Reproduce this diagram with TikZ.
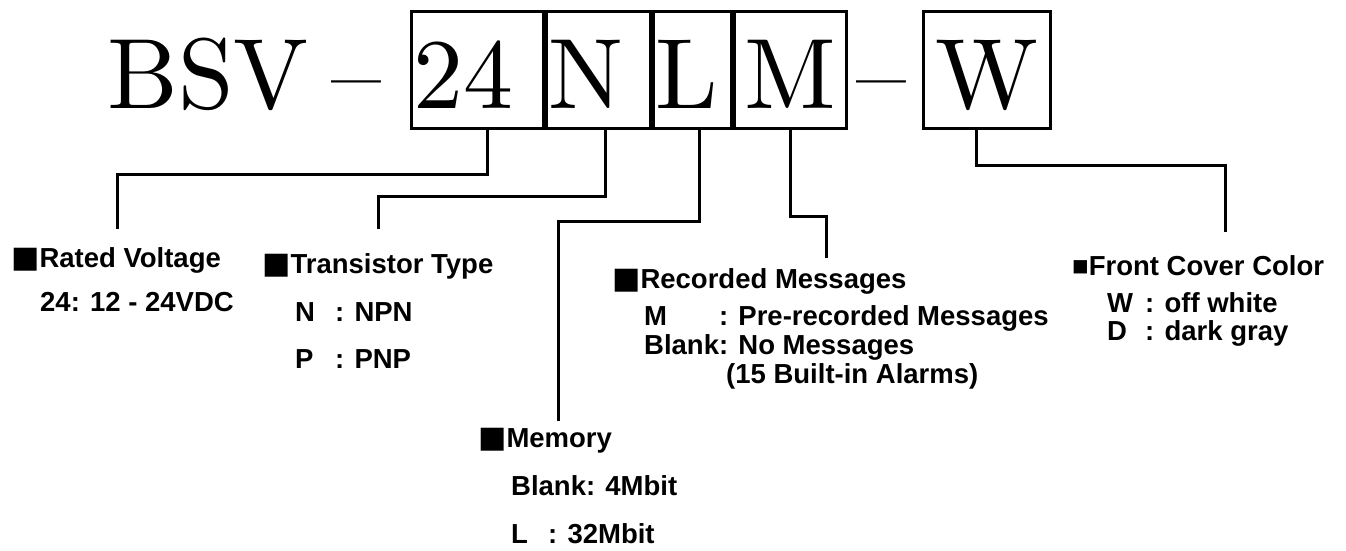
\documentclass[tikz,border=0pt]{standalone}
\usepackage{fontspec}
\setsansfont{Liberation Sans}
\newfontfamily\codefont{lmroman10-regular.otf}
\newfontfamily\sqfont{DejaVu Sans}
\tikzset{
  codebox/.style={draw, line width=3pt, inner xsep=2pt, inner ysep=0pt,
    text height=97pt, text depth=20pt, align=center, anchor=west,
    font=\fontsize{100}{100}\codefont},
  codetext/.style={anchor=base west, inner sep=0pt, font=\fontsize{100}{100}\codefont},
  lead/.style={line width=3pt},
  title/.style={anchor=base west, inner sep=0pt, font=\sffamily\bfseries\fontsize{27.5}{30}\selectfont},
  body/.style={anchor=base west, inner sep=0pt, align=left,
    font=\sffamily\bfseries\fontsize{27.5}{#1}\selectfont},
  body/.default=30
}
\newcommand\bigsq{{\sqfont\fontsize{30}{30}\selectfont■}}
\begin{document}
\begin{tikzpicture}[x=1pt, y=-1pt]
\useasboundingbox (0,0) rectangle (1346,550);

% Model code
\node[codetext] (bsv) at (107,108) {BSV};
\node[codetext] (dashA) at (331,108) {–};
\node[codebox, text width=128pt, align=left] (c24) at (410,69.5) {24};
\node[codebox, text width=100pt, align=left] (cN) at (c24.east) {N};
\node[codebox, text width=74pt, align=left] (cL) at (cN.east) {L};
\node[codebox, text width=108pt] (cM) at (cL.east) {M};
\node[codetext] (dashB) at (856,108) {–};
\node[codebox, text width=123pt] (cW) at (922,69.5) {W};

% Leader ends
\coordinate (rvEnd) at (117,229);
\coordinate (ttEnd) at (378,229);
\coordinate (memEnd) at (558,421);
\coordinate (recEnd) at (826,258);
\coordinate (fccEnd) at (1225,232);

% Leaders
\draw[lead] ([xshift=10]c24.south) -- ++(0,45) -| (rvEnd);
\draw[lead] ([xshift=7]cN.south) -- ++(0,67) -| (ttEnd);
\draw[lead] ([xshift=7]cL.south) -- ++(0,92) -| (memEnd);
\draw[lead] (cM.south) -- ++(0,87) -| (recEnd);
\draw[lead] ([xshift=-10.5]cW.south) -- ++(0,36) -| (fccEnd);

% Rated voltage
\node[title] (rvT) at (11,267) {\bigsq Rated Voltage};
\node[body] (rvB) at (40,311) {24: 12 - 24VDC};

% Transistor type (body anchored on its last line)
\node[title] (ttT) at (262,273) {\bigsq Transistor Type};
\node[body=47] (ttB) at (295,368) {\makebox[40pt][l]{N}: NPN\\\makebox[40pt][l]{P}: PNP};

% Memory
\node[title] (memT) at (478,447) {\bigsq Memory};
\node[body=48] (memB) at (511,543) {Blank: 4Mbit\\\makebox[37pt][l]{L}: 32Mbit};

% Recorded messages
\node[title] (recT) at (612,288) {\bigsq Recorded Messages};
\node[body=29] (recB) at (644,383) {\rlap{M}\phantom{Blank}: Pre-recorded Messages\\Blank: No Messages\\\hspace*{82pt}(15 Built-in Alarms)};

% Front cover color
\node[title] (fccT) at (1072,275) {■Front Cover Color};
\node[body=28] (fccB) at (1107,340) {\makebox[38pt][l]{W}: off white\\\makebox[38pt][l]{D}: dark gray};
\end{tikzpicture}
\end{document}
